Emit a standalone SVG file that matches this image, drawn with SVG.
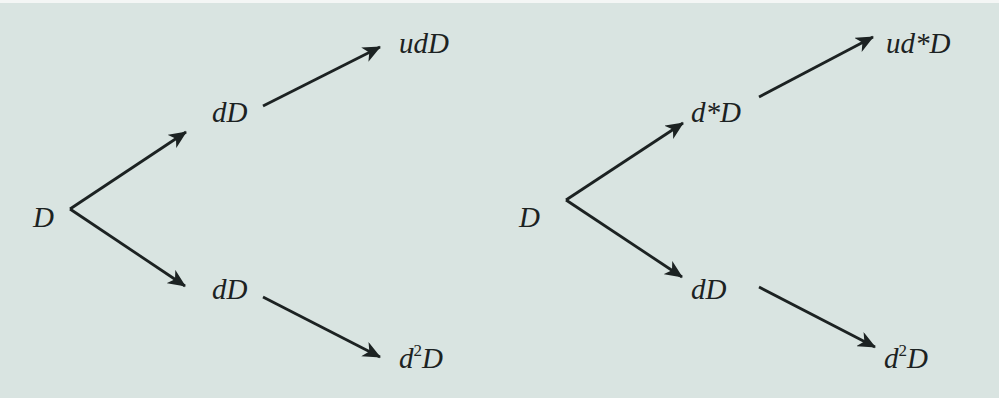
<svg xmlns="http://www.w3.org/2000/svg" width="999" height="398" viewBox="0 0 999 398">
<style>
.lbl{font-family:"Liberation Serif","Times New Roman",serif;font-style:italic;font-size:29px;fill:#1c2222}
.sup{font-style:normal;font-size:17px}
.ar{stroke:#1c2222;stroke-width:2.8;fill:none;marker-end:url(#ah)}
</style>
<defs>
<marker id="ah" markerUnits="userSpaceOnUse" markerWidth="18" markerHeight="16" viewBox="0 0 18 16" refX="17" refY="8" orient="auto">
<path d="M0,0 L18,8 L0,16 L5,8 Z" fill="#1c2222"/>
</marker>
</defs>
<rect x="0" y="0" width="999" height="398" fill="#d9e4e1"/>
<rect x="0" y="0" width="999" height="3" fill="#f4f6f5"/>
<g id="connectors">
<line class="ar" x1="70" y1="209" x2="186" y2="132"/>
<line class="ar" x1="70" y1="209" x2="185" y2="286"/>
<line class="ar" x1="263" y1="106" x2="380" y2="47"/>
<line class="ar" x1="263" y1="297" x2="380" y2="357"/>
<line class="ar" x1="566" y1="200" x2="683" y2="123"/>
<line class="ar" x1="566" y1="200" x2="682" y2="277"/>
<line class="ar" x1="759" y1="97" x2="873" y2="37"/>
<line class="ar" x1="759" y1="287" x2="875" y2="347"/>
</g>
<g id="L_D"><text class="lbl" x="33" y="227">D</text></g>
<g id="L_dD_up"><text class="lbl" x="212" y="122">dD</text></g>
<g id="L_udD"><text class="lbl" x="399" y="53">udD</text></g>
<g id="L_dD_down"><text class="lbl" x="212" y="299">dD</text></g>
<g id="L_d2D"><text class="lbl" x="399" y="368">d<tspan class="sup" dy="-12">2</tspan><tspan dy="12">D</tspan></text></g>
<g id="R_D"><text class="lbl" x="519" y="227">D</text></g>
<g id="R_dsD"><text class="lbl" x="691" y="122">d*D</text></g>
<g id="R_udsD"><text class="lbl" x="886" y="53">ud*D</text></g>
<g id="R_dD_down"><text class="lbl" x="691" y="299">dD</text></g>
<g id="R_d2D"><text class="lbl" x="884" y="368">d<tspan class="sup" dy="-12">2</tspan><tspan dy="12">D</tspan></text></g>
</svg>
